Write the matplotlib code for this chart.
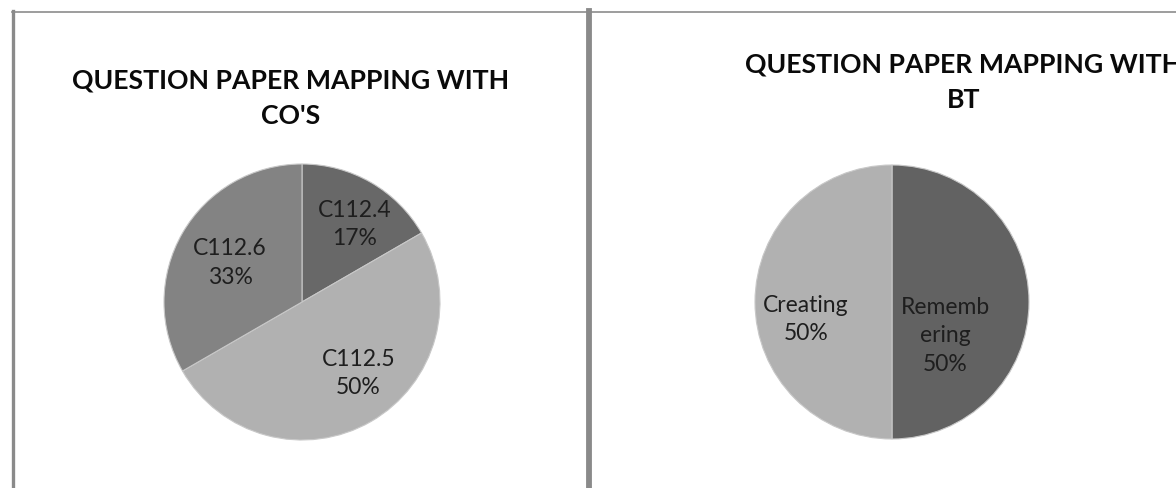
import matplotlib.pyplot as plt
from matplotlib.lines import Line2D

# datos
co_labels = ['C112.4', 'C112.5', 'C112.6']
co_values = [1, 3, 2]
co_colors = ['#686868', '#b1b1b1', '#838383']

bt_labels = ['Rememb\nering', 'Creating']
bt_values = [1, 1]
bt_colors = ['#626262', '#b1b1b1']

# posicion de las etiquetas (fraccion del radio), como en excel "best fit"
co_lab_pos = [(0.38, 0.57), (0.41, -0.51), (-0.52, 0.29)]
bt_lab_pos = [(0.39, -0.24), (-0.63, -0.12)]

plt.rcParams['font.family'] = ['Lato', 'DejaVu Sans']

W, H = 1176, 489
fig = plt.figure(figsize=(W / 100, H / 100), dpi=100)


def px(x, y):
    return x / W, 1 - y / H


# marcos de los graficos
fig.add_artist(Line2D([12 / W, 1], [1 - 12.5 / H] * 2, color='#8c8c8c', lw=1.2))
fig.add_artist(Line2D([12.5 / W] * 2, [0, 1 - 12 / H], color='#8a8a8a', lw=2.4))
fig.add_artist(Line2D([589 / W] * 2, [0, 1 - 12 / H], color='#8a8a8a', lw=4.2))


def pastel(cx, cy, r, values, labels, colors, lab_pos):
    left, top = px(cx - r, cy - r)
    ax = fig.add_axes([left, top - 2 * r / H, 2 * r / W, 2 * r / H])
    total = sum(values)
    textos = [f'{l}\n{round(100 * v / total)}%' for l, v in zip(labels, values)]
    wedges, texts = ax.pie(values, labels=textos, colors=colors, startangle=90,
                           counterclock=False,
                           wedgeprops=dict(edgecolor='#c8c8c8', linewidth=0.8),
                           textprops=dict(fontsize=16.5, color='#1e1e1e', linespacing=1.45))
    for t, p in zip(texts, lab_pos):
        t.set_ha('center')
        t.set_va('center')
        t.set_multialignment('center')
        t.set_position(p)
    ax.set_xlim(-1, 1)
    ax.set_ylim(-1, 1)
    ax.set_aspect('equal')
    ax.axis('off')
    return ax


pastel(302, 303, 138, co_values, co_labels, co_colors, co_lab_pos)
pastel(892, 303, 137, bt_values, bt_labels, bt_colors, bt_lab_pos)

# titulos (el de la derecha queda cortado en el borde, igual que el original)
fig.text(291 / W, 1 - 98 / H, "QUESTION PAPER MAPPING WITH\nCO'S", ha='center', va='center',
         fontsize=19.2, fontweight='bold', color='#0a0a0a', linespacing=1.58)
fig.text(964 / W, 1 - 82 / H, "QUESTION PAPER MAPPING WITH\nBT", ha='center', va='center',
         fontsize=19.2, fontweight='bold', color='#0a0a0a', linespacing=1.58)

plt.savefig('out.png', dpi=100)
